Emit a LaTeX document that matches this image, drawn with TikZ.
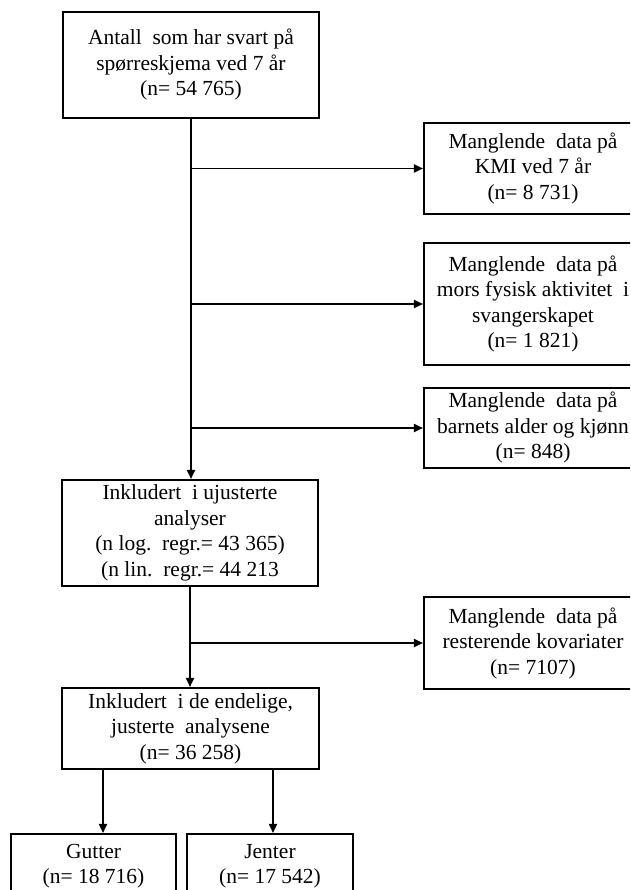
\documentclass[tikz,border=0pt]{standalone}
\usepackage{fontspec}
\setmainfont{Liberation Serif}
\usetikzlibrary{arrows.meta}
\tikzset{
  box/.style={draw, line width=2.1pt, align=center, inner sep=0pt,
    font=\fontsize{21.5}{25.5}\selectfont},
  arr/.style={line width=1.8pt, -{Triangle[length=9pt,width=8pt]}},
  ln/.style={line width=1.8pt}
}
\begin{document}
\begin{tikzpicture}[x=1pt,y=1pt]
\useasboundingbox (0,0) rectangle (630,-890);
\clip (0,0) rectangle (630,-890);
\node[box, minimum width=256pt, minimum height=106pt] (top) at (191,-65)
  {Antall\ \ som har svart på\\spørreskjema ved 7 år\\(n= 54 765)};
\node[box, minimum width=218pt, minimum height=91pt] (kmi) at (533,-168.5)
  {Manglende\ \ data på\\KMI ved 7 år\\(n= 8 731)};
\node[box, minimum width=218pt, minimum height=122pt] (mors) at (533,-304)
  {Manglende\ \ data på\\mors fysisk aktivitet\ \ i\\svangerskapet\\(n= 1 821)};
\node[box, minimum width=218pt, minimum height=80pt] (barn) at (533,-428)
  {Manglende\ \ data på\\barnets alder\ og kjønn\\(n= 848)};
\node[box, minimum width=256pt, minimum height=106pt] (ujust) at (190,-533)
  {Inkludert\ \ i ujusterte\\analyser\\(n log.\ \ regr.= 43 365)\\(n lin.\ \ regr.= 44 213};
\node[box, minimum width=218pt, minimum height=92pt] (rest) at (533,-643)
  {Manglende\ \ data på\\resterende kovariater\\(n= 7107)};
\node[box, minimum width=257pt, minimum height=81pt] (final) at (190.5,-728.5)
  {Inkludert\ \ i de endelige,\\justerte\ \ analysene\\(n= 36 258)};
\node[box, minimum width=165pt, minimum height=64pt] (gutter) at (93.5,-866)
  {Gutter\\(n= 18 716)};
\node[box, minimum width=166pt, minimum height=64pt] (jenter) at (270,-866)
  {Jenter\\(n= 17 542)};
% main trunk
\draw[arr] (top.south) -- (top.south |- ujust.north);
\draw[arr] (top.south |- kmi.west) -- (kmi.west);
\draw[arr] (top.south |- mors.west) -- (mors.west);
\draw[arr] (top.south |- barn.west) -- (barn.west);
\draw[arr] (ujust.south) -- (ujust.south |- final.north);
\draw[arr] (ujust.south |- rest.west) -- (rest.west);
% split
\coordinate (g1) at (103,-769);
\coordinate (j1) at (273,-769);
\draw[arr] (g1) -- (g1 |- gutter.north);
\draw[arr] (j1) -- (j1 |- jenter.north);
\end{tikzpicture}
\end{document}
